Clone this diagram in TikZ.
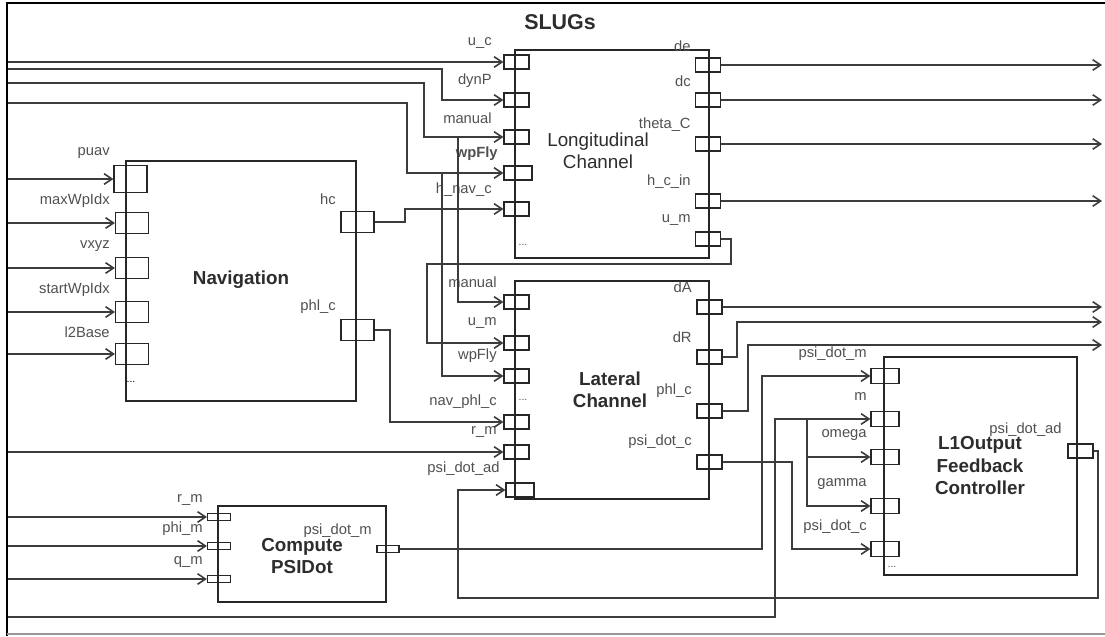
\documentclass[tikz,border=0pt]{standalone}
\usepackage{fontspec}
\setmainfont{Liberation Sans}
\usepackage{tikz}
\usetikzlibrary{arrows.meta, positioning, fit}
\definecolor{wiregray}{RGB}{60,60,60}
\definecolor{labelgray}{RGB}{80,80,80}
\definecolor{titlegray}{RGB}{45,45,45}

\tikzset{
  block/.style={draw=black!85, line width=0.8pt, inner sep=0pt},
  port/.style={draw=black!85, line width=0.7pt, inner sep=0pt,
               minimum width=0.5cm, minimum height=0.28cm},
  navport/.style={port, minimum width=0.66cm, minimum height=0.43cm},
  thinport/.style={port, minimum width=0.46cm, minimum height=0.14cm},
  l1port/.style={port, minimum width=0.56cm, minimum height=0.3cm},
  plab/.style={anchor=east, inner sep=0pt, text=labelgray,
               font=\fontsize{8.4}{10}\selectfont},
  dots/.style={inner sep=0pt, text=labelgray, font=\fontsize{6}{7}\selectfont},
  title/.style={align=center, text=titlegray,
                font=\bfseries\fontsize{10.7}{12.8}\selectfont},
  wire/.style={draw=wiregray, line width=0.9pt},
  sig/.style={wire, -{Straight Barb[length=4.5pt, width=6pt]}}
}

\begin{document}
\begin{tikzpicture}[x=0.02cm, y=-0.02cm]
  \useasboundingbox (0,0) rectangle (1105,636);

  % frame
  \draw[line width=1pt] (1105,3) -- (7,3) -- (7,636);
  \draw[black!40, line width=0.8pt] (7,634) -- (1105,634);
  \coordinate (lft) at (8,0);
  \coordinate (rgt) at (1102,0);

  \node[font=\bfseries\fontsize{12.2}{14}\selectfont, text=titlegray]
    (slugs) at (560,22) {SLUGs};

  % blocks
  \node[block, fit={(126,161) (356,401)}] (nav) {};
  \node[title] (nav-t) at (241,280) {Navigation};
  \node[block, fit={(515,50) (709,258)}] (lc) {};
  \node[title, font=\fontsize{10.7}{12.8}\selectfont] (lc-t) at (598,151)
    {Longitudinal\\Channel};
  \node[block, fit={(515,281) (709,499)}] (lat) {};
  \node[title] (lat-t) at (610,390) {Lateral\\Channel};
  \node[block, fit={(218,506) (386,602)}] (cp) {};
  \node[title] (cp-t) at (302,556) {Compute\\PSIDot};
  \node[block, fit={(884,357) (1077,575)}] (l1) {};
  \node[title] (l1-t) at (980,466) {L1Output\\Feedback\\Controller};

  % Navigation ports
  \node[navport, minimum height=0.54cm] (nav-puav) at (130.5,179) {};
  \node[plab] (nav-puav-l) at (110,153) {puav};
  \foreach \n/\y/\lab in {mwp/223/maxWpIdx, vxyz/268/vxyz,
                          swp/312/startWpIdx, l2b/354/l2Base}{
    \node[navport] (nav-\n) at (132,\y) {};
    \node[plab] (nav-\n-l) at (110,\y-22) {\lab};
  }
  \node[dots, text=black] (nav-dots) at (131,382) {...};
  \node[navport] (nav-hc) at (357.5,222) {};
  \node[plab] (nav-hc-l) at (336,199) {hc};
  \node[navport] (nav-phl) at (357.5,330) {};
  \node[plab] (nav-phl-l) at (336,307) {phl\_c};

  % Longitudinal Channel ports
  \foreach \n/\y/\lab in {uc/62/u\_c, dyn/100/dynP, man/137/manual,
                          hnav/209/h\_nav\_c}{
    \node[port] (lc-\n) at (516.5,\y) {};
    \node[plab] (lc-\n-l) at (492,\y-19) {\lab};
  }
  \node[port, minimum width=0.56cm] (lc-wp) at (518,173) {};
  \node[plab, font=\bfseries\fontsize{8.4}{10}\selectfont] (lc-wp-l)
    at (498,154) {wpFly};
  \node[dots] (lc-dots) at (523,245) {...};
  \foreach \n/\y/\lab in {de/65/de, dc/100/dc, th/144/theta\_C,
                          hcin/201/h\_c\_in, um/239/u\_m}{
    \node[port] (lc-\n) at (708,\y) {};
    \node[plab] (lc-\n-l) at (691,\y-19) {\lab};
  }

  % Lateral Channel ports
  \foreach \n/\y/\lab in {man/302/manual, um/343/u\_m, wp/376/wpFly,
                          nphl/422/nav\_phl\_c, rm/452/r\_m}{
    \node[port] (lat-\n) at (516.5,\y) {};
    \node[plab] (lat-\n-l) at (497,\y-20) {\lab};
  }
  \node[port, minimum width=0.56cm] (lat-psiad) at (520,490) {};
  \node[plab] (lat-psiad-l) at (500,469) {psi\_dot\_ad};
  \node[dots] (lat-dots) at (523,400) {...};
  \foreach \n/\y/\lab in {dA/307/dA, dR/357/dR, phl/411/phl\_c,
                          psic/462/psi\_dot\_c}{
    \node[port] (lat-\n) at (709.5,\y) {};
    \node[plab] (lat-\n-l) at (692,\y-20) {\lab};
  }

  % Compute PSIDot ports
  \foreach \n/\y/\lab in {rm/517/r\_m, phim/546/phi\_m, qm/579/q\_m}{
    \node[thinport] (cp-\n) at (219,\y) {};
    \node[plab] (cp-\n-l) at (203,\y-17) {\lab};
  }
  \node[thinport, minimum width=0.44cm] (cp-psim) at (388,549) {};
  \node[plab] (cp-psim-l) at (372,531) {psi\_dot\_m};

  % L1Output Feedback Controller ports
  \foreach \n/\y/\lab in {psim/376/psi\_dot\_m, m/419/m, om/457/omega,
                          ga/506/gamma, psic/549/psi\_dot\_c}{
    \node[l1port] (l1-\n) at (885,\y) {};
    \node[plab] (l1-\n-l) at (867,\y-22) {\lab};
  }
  \node[dots] (l1-dots) at (892,567) {...};
  \node[port] (l1-psiad) at (1080.5,451) {};
  \node[plab] (l1-psiad-l) at (1062,430) {psi\_dot\_ad};

  % wire ends and taps
  \coordinate (in-dyn) at (8,69);
  \coordinate (in-man) at (8,83);
  \coordinate (in-wp) at (8,103);
  \coordinate (in-m) at (8,617);
  \coordinate (tap-man) at (458,137);
  \coordinate (tap-wp) at (442,173);
  \coordinate (tap-m) at (807,419);
  \coordinate (out-dR) at (1102,322);
  \coordinate (out-phl) at (1102,345);

  % inputs from the left
  \foreach \n in {puav,mwp,vxyz,swp,l2b}
    \draw[sig] (nav-\n.west -| lft) -- (nav-\n.west);
  \foreach \n in {rm,phim,qm}
    \draw[sig] (cp-\n.west -| lft) -- (cp-\n.west);
  \draw[sig] (lc-uc.west -| lft) -- (lc-uc.west);
  \draw[sig] (in-dyn) -| (442,100) -- (lc-dyn.west);
  \draw[sig] (in-man) -| (424,137) -- (lc-man.west);
  \draw[sig] (in-wp) -| (407,173) -- (lc-wp.west);
  \draw[sig] (lat-rm.west -| lft) -- (lat-rm.west);

  % Longitudinal Channel
  \draw[sig] (nav-hc.east) -| (405,209) -- (lc-hnav.west);
  \foreach \n in {de,dc,th,hcin}
    \draw[sig] (lc-\n.east) -- (lc-\n.east -| rgt);

  % Lateral Channel
  \draw[sig] (tap-man) |- (lat-man.west);
  \draw[sig] (tap-wp) |- (lat-wp.west);
  \draw[sig] (lc-um.east) -| (731,264) -| (427,343) -- (lat-um.west);
  \draw[sig] (nav-phl.east) -| (390,422) -- (lat-nphl.west);
  \draw[sig] (l1-psiad.east) -| (1098,598) -| (458,490) -- (lat-psiad.west);
  \draw[sig] (lat-dA.east) -- (lat-dA.east -| rgt);
  \draw[sig] (lat-dR.east) -| (737,322) -- (out-dR);
  \draw[sig] (lat-phl.east) -| (748,345) -- (out-phl);

  % L1Output Feedback Controller
  \draw[sig] (cp-psim.east) -| (762,376) -- (l1-psim.west);
  \draw[sig] (in-m) -| (775,419) -- (l1-m.west);
  \draw[sig] (tap-m) |- (l1-om.west);
  \draw[sig] (tap-m) |- (l1-ga.west);
  \draw[sig] (lat-psic.east) -| (792,549) -- (l1-psic.west);
\end{tikzpicture}
\end{document}
